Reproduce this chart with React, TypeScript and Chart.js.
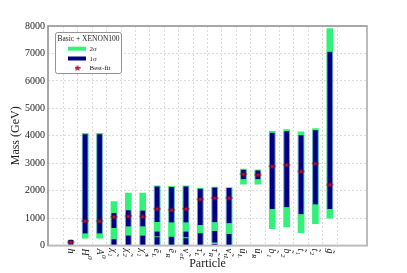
import React, { useEffect, useRef } from "react";
import { Chart, registerables } from "chart.js";

Chart.register(...registerables);

// Particle labels: base glyph, subscript, superscript
const particleBase = ["h", "H", "A", "χ̃", "χ̃", "χ̃", "ẽ", "ẽ", "ν̃", "τ̃", "τ̃", "ν̃", "ũ", "ũ", "b̃", "b̃", "t̃", "t̃", "g̃"];
const particleSub = ["", "", "", "1", "2", "1", "L", "R", "eL", "L", "R", "τL", "L", "R", "1", "2", "1", "2", ""];
const particleSup = ["", "0", "0", "", "", "±", "", "", "", "", "", "", "", "", "", "", "", "", ""];

// 2σ ranges (GeV)
const twoSigmaLow = [null, 270, 270, 0, 0, 0, 0, 0, 0, 0, 0, 0, 2240, 2240, 620, 680, 470, 800, 1000];
const twoSigmaHigh = [null, 4090, 4090, 1600, 1910, 1910, 2180, 2160, 2180, 2100, 2135, 2110, 2790, 2760, 4160, 4230, 4145, 4265, 7910];

// 1σ ranges (GeV): upper, middle and lowest intervals
const oneSigmaUpper: ([number, number] | null)[] = [
  [30, 210], [440, 4060], [440, 4060], [640, 1190], [700, 1290], [700, 1280], [860, 2155], [840, 2135], [840, 2155],
  [750, 2075], [850, 2115], [815, 2095], [2420, 2765], [2420, 2740], [1330, 4110], [1400, 4170], [1145, 4020], [1500, 4205], [1330, 7060],
];
const oneSigmaMiddle: ([number, number] | null)[] = [
  null, null, null, null, null, null, [330, 510], null, [300, 510], null, [110, 530], null, null, null, null, null, null, null, null,
];
const oneSigmaLowest: ([number, number] | null)[] = [
  null, null, null, [0, 230], [0, 365], [0, 365], [0, 300], [0, 326], [0, 270], [0, 450], [0, 60], [0, 425], null, null, null, null, null, null, null,
];

// Best-fit points (GeV)
const bestFit = [125, 900, 890, 1050, 1070, 1060, 1340, 1300, 1340, 1690, 1730, 1730, 2600, 2580, 2890, 2940, 2700, 2990, 2220];

const yTicks = [0, 1000, 2000, 3000, 4000, 5000, 6000, 7000, 8000];

const GREEN = "#33f27a";
const NAVY = "#000080";
const SERIF = "'Liberation Serif', 'DejaVu Serif', serif";

function makeStar(): HTMLCanvasElement {
  const c = document.createElement("canvas");
  c.width = 10;
  c.height = 8;
  const g = c.getContext("2d")!;
  g.strokeStyle = "rgba(90,26,42,0.8)";
  g.lineWidth = 0.8;
  g.beginPath();
  g.moveTo(1, 4);
  g.lineTo(9, 4);
  g.stroke();
  const cx = 5, cy = 4.2, ro = 2.8, ri = 1.15;
  g.beginPath();
  for (let k = 0; k < 10; k++) {
    const r = k % 2 === 0 ? ro : ri;
    const a = -Math.PI / 2 + (k * Math.PI) / 5;
    const px = cx + r * Math.cos(a);
    const py = cy + r * Math.sin(a);
    if (k === 0) g.moveTo(px, py);
    else g.lineTo(px, py);
  }
  g.closePath();
  g.fillStyle = "#e01035";
  g.fill();
  g.strokeStyle = "#7a0018";
  g.lineWidth = 0.5;
  g.stroke();
  return c;
}

function segData(arr: ([number, number] | null)[]) {
  return arr.map((r, i) => (r ? { x: i, y: r } : { x: i, y: null }));
}

export default function App() {
  const ref = useRef<HTMLCanvasElement | null>(null);

  useEffect(() => {
    const canvas = ref.current;
    if (!canvas) return;
    const star = makeStar();

    const overlay = {
      id: "overlay",
      afterDraw(chart: any) {
        const ctx = chart.ctx as CanvasRenderingContext2D;
        const area = chart.chartArea;
        const xs = chart.scales.x;
        ctx.save();
        // frame
        ctx.strokeStyle = "#bcbcbc";
        ctx.lineWidth = 2;
        ctx.strokeRect(area.left, area.top, area.right - area.left, area.bottom - area.top);
        ctx.strokeStyle = "#888";
        ctx.lineWidth = 0.8;
        ctx.beginPath();
        ctx.moveTo(area.left, area.bottom);
        ctx.lineTo(area.left, area.top);
        ctx.lineTo(area.right, area.top);
        ctx.stroke();

        // x tick labels, rotated clockwise
        ctx.fillStyle = "#222";
        particleBase.forEach((base, i) => {
          const px = xs.getPixelForValue(i);
          ctx.save();
          ctx.translate(px, area.bottom + 3);
          ctx.rotate(Math.PI / 2);
          ctx.textAlign = "left";
          ctx.textBaseline = "alphabetic";
          ctx.font = `italic 10px ${SERIF}`;
          ctx.fillText(base, 0, 3);
          const w = ctx.measureText(base).width;
          ctx.font = `italic 7px ${SERIF}`;
          if (particleSub[i]) ctx.fillText(particleSub[i], w + 0.3, 5.5);
          if (particleSup[i]) ctx.fillText(particleSup[i], w + 0.3, -2.5);
          ctx.restore();
        });

        // axis titles
        ctx.font = `12px ${SERIF}`;
        ctx.textAlign = "center";
        ctx.textBaseline = "middle";
        ctx.fillText("Particle", (area.left + area.right) / 2, 264);
        ctx.save();
        ctx.translate(16, (area.top + area.bottom) / 2);
        ctx.rotate(-Math.PI / 2);
        ctx.fillText("Mass (GeV)", 0, 0);
        ctx.restore();

        // legend
        const lx = 55, ly = 32, lw = 66, lh = 41;
        ctx.fillStyle = "#fff";
        ctx.strokeStyle = "#777";
        ctx.lineWidth = 0.8;
        ctx.beginPath();
        ctx.roundRect(lx + 0.5, ly + 0.5, lw, lh, 2);
        ctx.fill();
        ctx.stroke();
        ctx.fillStyle = "#222";
        ctx.font = `7.5px ${SERIF}`;
        ctx.textAlign = "center";
        ctx.fillText("Basic + XENON100", lx + lw / 2 + 0.5, ly + 7.5);
        ctx.fillStyle = GREEN;
        ctx.fillRect(68, 46.7, 18, 4);
        ctx.fillStyle = NAVY;
        ctx.fillRect(68, 56.5, 18, 4);
        ctx.drawImage(star, 2, 0, 6, 8, 77 - 3 + 0.5, 68 - 4, 6, 8);
        ctx.fillStyle = "#222";
        ctx.textAlign = "left";
        ctx.font = `7px ${SERIF}`;
        ctx.fillText("2σ", 89.5, 49);
        ctx.fillText("1σ", 89.5, 58.7);
        ctx.fillText("Best-fit", 89.5, 68.5);
        ctx.restore();
      },
    };

    const barCommon = { barThickness: 6, grouped: false, borderSkipped: false };

    const chart = new Chart(canvas, {
      type: "bar",
      data: {
        datasets: [
          {
            ...barCommon,
            label: "2σ",
            data: twoSigmaLow.map((lo, i) => ({ x: i, y: lo === null ? null : [lo, twoSigmaHigh[i] as number] })) as any,
            backgroundColor: GREEN,
            borderWidth: 0,
            order: 3,
          },
          {
            ...barCommon,
            label: "1σ",
            data: segData(oneSigmaUpper) as any,
            backgroundColor: NAVY,
            borderColor: "rgba(130,140,220,0.85)",
            borderWidth: { left: 1, right: 1, top: 0, bottom: 0 },
            order: 2,
          },
          {
            ...barCommon,
            label: "1σ b",
            data: segData(oneSigmaMiddle) as any,
            backgroundColor: NAVY,
            borderColor: "rgba(130,140,220,0.85)",
            borderWidth: { left: 1, right: 1, top: 0, bottom: 0 },
            order: 2,
          },
          {
            ...barCommon,
            label: "1σ c",
            data: segData(oneSigmaLowest) as any,
            backgroundColor: NAVY,
            borderColor: "rgba(130,140,220,0.85)",
            borderWidth: { left: 1, right: 1, top: 0, bottom: 0 },
            order: 2,
          },
          {
            type: "scatter",
            label: "Best-fit",
            data: bestFit.map((v, i) => ({ x: i, y: v })),
            pointStyle: star as any,
            pointRadius: 4,
            order: 0,
          } as any,
        ],
      },
      options: {
        animation: false,
        responsive: false,
        devicePixelRatio: 1,
        layout: { padding: { top: 26, right: 40, left: 0, bottom: 0 } },
        plugins: { legend: { display: false }, tooltip: { enabled: false } },
        scales: {
          x: {
            type: "linear",
            min: -1,
            max: 20,
            afterBuildTicks: (s: any) => {
              s.ticks = particleBase.map((_, i) => ({ value: i }));
            },
            afterFit: (s: any) => {
              s.height = 273 - 245.6;
            },
            ticks: { display: false },
            grid: { color: "#d4d4d4", lineWidth: 0.8, drawTicks: false },
            border: { display: false, dash: [2, 2] },
          },
          y: {
            min: 0,
            max: 8000,
            afterBuildTicks: (s: any) => {
              s.ticks = yTicks.map((v) => ({ value: v }));
            },
            afterFit: (s: any) => {
              s.width = 48;
            },
            ticks: {
              font: { family: SERIF, size: 10 },
              color: "#222",
              padding: 3,
              callback: (v: any) => String(v),
            },
            grid: { color: "#d4d4d4", lineWidth: 0.8, drawTicks: false },
            border: { display: false, dash: [2, 2] },
          },
        },
      },
      plugins: [overlay],
    } as any);

    return () => chart.destroy();
  }, []);

  return (
    <div style={{ position: "absolute", left: 0, top: 0, width: 407, height: 273, background: "#fff" }}>
      <canvas ref={ref} width={407} height={273} style={{ width: 407, height: 273, display: "block" }} />
    </div>
  );
}
